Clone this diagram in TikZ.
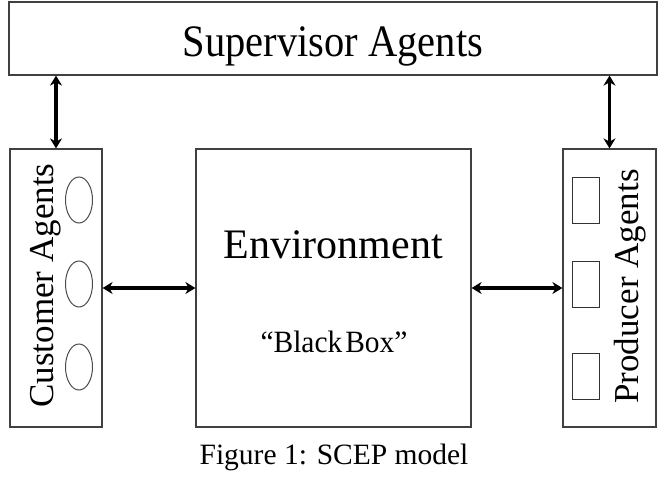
\documentclass[tikz,border=0pt]{standalone}
\usepackage{fontspec}
\setmainfont{Liberation Serif}
\usetikzlibrary{arrows.meta,shapes.geometric}
\begin{document}
\begin{tikzpicture}[x=1pt,y=-1pt,
  box/.style={draw=black!75,line width=1.2pt,inner sep=0pt},
  arr/.style={draw=black,line width=3.4pt,{Stealth[length=10pt,width=12pt]}-{Stealth[length=10pt,width=12pt]}},
  oval/.style={ellipse,draw=black!70,line width=1pt,minimum width=27pt,minimum height=46pt,inner sep=0pt},
  sq/.style={draw=black!80,line width=1pt,minimum width=27pt,minimum height=46pt,inner sep=0pt},
  lbl/.style={inner sep=0pt,anchor=base}]
\useasboundingbox (0,0) rectangle (660,476);
\node[box,minimum width=648pt,minimum height=73pt] (sup) at (333,38.5) {};
\node[lbl,xscale=0.9] (suptxt) at (333,57) {\fontsize{45}{45}\selectfont Supervisor Agents};
\node[box,minimum width=92pt,minimum height=278pt] (cust) at (56,288) {};
\node[box,minimum width=275pt,minimum height=278pt] (env) at (333.5,288) {};
\node[box,minimum width=93pt,minimum height=278pt] (pro) at (609.5,288) {};
\node[lbl,rotate=90] (ctxt) at (53,285.5) {\fontsize{35}{35}\selectfont Customer Agents};
\node[lbl,rotate=90] (ptxt) at (638,286.5) {\fontsize{35}{35}\selectfont Producer Agents};
\node[oval] (o1) at (79,200) {};
\node[oval] (o2) at (79,284) {};
\node[oval] (o3) at (79,367) {};
\node[sq] (s1) at (586,200) {};
\node[sq] (s2) at (586,284.5) {};
\node[sq] (s3) at (586,376) {};
\node[lbl] (envtxt) at (333,258) {\fontsize{42}{42}\selectfont Environment};
\node[lbl,xscale=0.95] (bb) at (334,352) {\fontsize{31}{31}\selectfont “Black\hspace{0.1em}Box”};
\node[lbl] (cap) at (334,464) {\fontsize{29.5}{29.5}\selectfont Figure 1: SCEP model};
\draw[arr] (cust.north) -- (cust.north |- sup.south);
\draw[arr] (pro.north) -- (pro.north |- sup.south);
\draw[arr] (cust.east) -- (env.west);
\draw[arr] (env.east) -- (pro.west);
\end{tikzpicture}
\end{document}
